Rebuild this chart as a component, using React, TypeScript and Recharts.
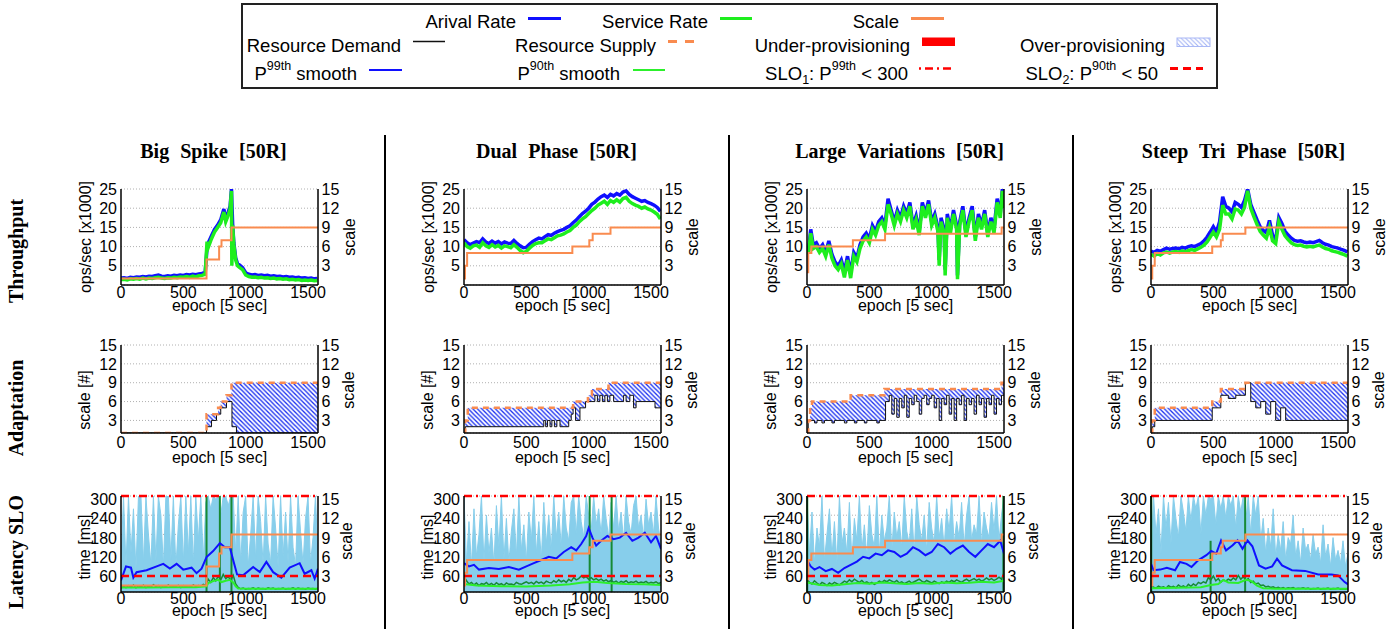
import React from 'react';
import { ComposedChart, Line, Area, XAxis, YAxis, CartesianGrid, ReferenceLine } from 'recharts';

const FONT = '"Liberation Sans", Arial, Helvetica, sans-serif';
const SERIF = '"Liberation Serif", "Times New Roman", serif';

const C = {
  blue: '#1010ff',
  green: '#1eee1e',
  orange: '#f98b4f',
  black: '#111111',
  sky: '#87ceeb',
  dkgreen: '#178a35',
  lime: '#2cf02c',
  red: '#ff0000',
  hatch: '#1a2ff0',
};

// ---------------- categories / ticks ----------------
const titles = ['Big Spike [50R]', 'Dual Phase [50R]', 'Large Variations [50R]', 'Steep Tri Phase [50R]'];
const rowLabels = ['Throughput', 'Adaptation', 'Latency SLO'];
const xTicks = [0, 500, 1000, 1500];
const thrTicks = [5, 10, 15, 20, 25];
const scaleTicks = [3, 6, 9, 12, 15];
const latTicks = [60, 120, 180, 240, 300];

const epochs25 = [0, 25, 50, 75, 100, 125, 150, 175, 200, 225, 250, 275, 300, 325, 350, 375, 400, 425, 450, 475, 500, 525, 550, 575, 600, 625, 650, 675, 700, 725, 750, 775, 800, 825, 850, 875, 900, 925, 950, 975, 1000, 1025, 1050, 1075, 1100, 1125, 1150, 1175, 1200, 1225, 1250, 1275, 1300, 1325, 1350, 1375, 1400, 1425, 1450, 1475, 1500, 1525, 1550, 1575];
const epochs20 = [0, 20, 40, 60, 80, 100, 120, 140, 160, 180, 200, 220, 240, 260, 280, 300, 320, 340, 360, 380, 400, 420, 440, 460, 480, 500, 520, 540, 560, 580, 600, 620, 640, 660, 680, 700, 720, 740, 760, 780, 800, 820, 840, 860, 880, 900, 920, 940, 960, 980, 1000, 1020, 1040, 1060, 1080, 1100, 1120, 1140, 1160, 1180, 1200, 1220, 1240, 1260, 1280, 1300, 1320, 1340, 1360, 1380, 1400, 1420, 1440, 1460, 1480, 1500, 1520, 1540, 1560, 1580];

// ---------------- Big Spike ----------------
const bsEpochs = [0, 25, 50, 75, 100, 125, 150, 175, 200, 225, 250, 275, 300, 325, 350, 375, 400, 425, 450, 475, 500, 525, 550, 575, 600, 625, 650, 675, 690, 700, 725, 750, 775, 800, 825, 840, 860, 875, 886, 889, 895, 905, 920, 935, 950, 975, 1000, 1025, 1050, 1075, 1100, 1125, 1150, 1175, 1200, 1225, 1250, 1275, 1300, 1325, 1350, 1375, 1400, 1425, 1450, 1475, 1500, 1525, 1550, 1575];
const bsArrival = [1.8, 1.9, 1.7, 2.0, 1.9, 2.1, 2.0, 2.2, 2.1, 2.3, 2.2, 2.4, 2.6, 2.3, 2.2, 2.4, 2.3, 2.5, 2.4, 2.6, 2.5, 2.7, 2.6, 2.8, 2.7, 2.9, 3.0, 3.3,
  9.5, 11.0, 12.8, 14.5, 15.6, 17.0, 19.8, 17.2, 19.0, 20.5, 25.0, 22.0, 16.0, 11.0, 7.0, 5.5, 5.2, 4.5,
  3.2, 2.8, 2.6, 2.7, 2.5, 2.6, 2.4, 2.5, 2.3, 2.4, 2.2, 2.3, 2.1, 2.2, 2.0, 2.1, 1.9, 2.0, 1.8, 1.9, 1.7, 1.8, 1.6, 1.7];
const bsService = [1.4, 1.5, 1.3, 1.6, 1.5, 1.7, 1.5, 1.8, 1.6, 1.8, 1.7, 1.9, 2.0, 1.8, 1.7, 1.9, 1.8, 2.0, 1.9, 2.1, 2.0, 2.2, 2.0, 2.3, 2.1, 2.4, 2.5, 2.8,
  11.3, 9.8, 12.0, 13.8, 15.0, 16.2, 19.0, 16.5, 18.2, 19.8, 24.5, 5.0, 15.5, 10.5, 6.5, 5.0, 4.6, 4.0,
  2.6, 2.2, 2.0, 2.1, 1.9, 2.0, 1.8, 1.9, 1.7, 1.8, 1.6, 1.7, 1.5, 1.6, 1.4, 1.5, 1.3, 1.4, 1.2, 1.3, 1.2, 1.3, 1.1, 1.2];
const bsScale = [[0, 1], [686, 4], [787, 6], [806, 7], [886, 9], [1580, 9]];
const bsSupply = [[0, 1], [686, 4], [779, 5], [800, 6], [846, 7], [886, 9], [1580, 9]];
const bsDemand = [[0, 1], [686, 2], [726, 3], [766, 4], [800, 5], [846, 6], [890, 2], [926, 1], [1580, 1]];
const bsP99Raw = [
  90, 300, 80, 300, 120, 260, 70, 300, 300, 90,
  300, 180, 85, 300, 95, 300, 240, 80, 300, 300,
  100, 300, 75, 210, 300, 90, 300, 120, 300, 85,
  300, 160, 300, 95, 280, 300, 260, 300, 290, 300,
  240, 300, 300, 270, 300, 300, 120, 300, 90, 250,
  300, 80, 180, 300, 100, 300, 220, 85, 300, 150,
  90, 300, 200, 80, 300, 110, 250, 90, 300, 140,
  80, 300, 190, 85, 230, 300, 90, 170, 300, 100];
const bsP90Raw = [
  12, 18, 14, 20, 15, 22, 13, 19, 16, 21,
  14, 18, 15, 23, 17, 20, 14, 19, 16, 22,
  15, 18, 17, 21, 14, 20, 16, 19, 15, 22,
  17, 20, 18, 24, 20, 40, 30, 45, 35, 50,
  38, 55, 42, 48, 36, 52, 25, 14, 10, 12,
  9, 11, 10, 13, 9, 12, 10, 11, 9, 13,
  10, 12, 9, 11, 10, 12, 9, 11, 10, 13,
  9, 12, 10, 11, 9, 12, 10, 11, 9, 12];
const bsP90Smooth = [[0, 14], [200, 14], [400, 15], [600, 15], [686, 18], [700, 28], [740, 34], [780, 38], [806, 31], [840, 35], [873, 38], [900, 30], [920, 18], [940, 11], [1100, 10], [1300, 10], [1580, 10]];
const bsP99Smooth = [[0, 36], [40, 80], [80, 76], [99, 45], [125, 62], [205, 68], [286, 80], [339, 88], [392, 73], [446, 88], [499, 70], [566, 76], [606, 59], [646, 73], [686, 109], [739, 128], [793, 153], [833, 140], [873, 140], [900, 99], [931, 55], [979, 52], [1060, 78], [1113, 62], [1166, 94], [1220, 62], [1286, 45], [1353, 76], [1433, 90], [1473, 57], [1527, 68], [1553, 42], [1580, 73]];
const bsSpikes = [[686, 300], [793, 300], [886, 300]];

// ---------------- Dual Phase ----------------
const dpArrival = [11.8, 11.0, 10.5, 10.9, 11.3, 11.0, 12.0, 11.2, 10.8, 11.4, 10.9, 11.3, 10.7, 11.2, 10.9, 10.8, 11.6, 10.8, 10.2, 9.7, 9.8, 10.6, 11.3, 11.8, 12.2, 12.0, 12.6, 13.1, 12.9, 13.5, 13.9, 14.2, 14.5, 15.0, 15.4, 16.2, 16.9, 17.8, 18.6, 19.2, 20.0, 21.0, 21.6, 22.4, 23.0, 23.4, 22.8, 23.6, 23.2, 23.8, 23.4, 24.2, 24.5, 23.6, 23.0, 22.6, 22.2, 21.8, 22.0, 21.5, 21.2, 20.8, 20.2, 19.2];
const dpService = [11.0, 10.0, 9.6, 10.2, 10.4, 9.8, 11.0, 10.2, 9.8, 10.5, 9.9, 10.3, 9.6, 10.2, 10.0, 9.7, 10.5, 9.8, 9.0, 8.4, 8.8, 9.6, 10.3, 10.8, 11.0, 11.0, 11.5, 12.0, 11.8, 12.3, 12.8, 13.0, 13.3, 13.8, 14.2, 15.0, 15.6, 16.5, 17.2, 17.8, 18.6, 19.4, 20.0, 20.8, 21.3, 21.8, 21.0, 22.0, 21.5, 22.2, 21.6, 22.5, 22.8, 21.8, 21.2, 20.8, 20.5, 20.0, 20.3, 19.8, 19.5, 19.0, 18.4, 17.2];
const dpScale = [[0, 1], [8, 3], [25, 5], [869, 6], [1005, 7], [1032, 8], [1175, 9], [1580, 9]];
const dpSupply = [[0, 1], [10, 3], [30, 5], [875, 6], [994, 7], [1026, 8], [1159, 9], [1580, 9]];
const dpDemand = [[0, 1], [10, 2], [640, 3], [655, 2], [670, 3], [690, 2], [705, 3], [725, 2], [745, 3], [770, 2], [840, 3], [860, 4], [875, 5], [895, 3], [930, 5], [975, 6], [1026, 6], [1050, 7], [1070, 6], [1090, 7], [1110, 6], [1130, 7], [1150, 6], [1170, 7], [1200, 6], [1280, 7], [1300, 6], [1330, 7], [1360, 5], [1380, 6], [1532, 5], [1580, 5]];
const dpP99Raw = [
  300, 90, 220, 80, 260, 110, 180, 300, 95, 240,
  120, 200, 85, 270, 140, 300, 100, 230, 90, 190,
  260, 110, 300, 130, 210, 95, 250, 160, 300, 120,
  220, 100, 280, 150, 240, 130, 300, 170, 250, 140,
  300, 200, 160, 280, 300, 180, 300, 220, 170, 300,
  240, 190, 300, 210, 260, 180, 300, 230, 170, 280,
  200, 300, 190, 250, 160, 300, 220, 180, 270, 300,
  200, 240, 170, 290, 210, 250, 180, 300, 200, 150];
const dpP90Raw = [
  50, 35, 25, 30, 22, 28, 20, 26, 24, 30,
  22, 27, 21, 29, 23, 26, 20, 28, 24, 25,
  22, 30, 26, 24, 28, 32, 27, 30, 25, 33,
  28, 31, 26, 34, 30, 28, 35, 30, 38, 32,
  36, 30, 40, 34, 45, 38, 42, 50, 44, 48,
  40, 45, 38, 42, 36, 40, 34, 38, 32, 36,
  30, 34, 28, 33, 30, 35, 28, 32, 30, 34,
  28, 31, 29, 33, 27, 30, 28, 32, 26, 30];
const dpP90Smooth = [[0, 25], [100, 20], [300, 18], [500, 17], [700, 20], [850, 24], [950, 30], [1050, 32], [1150, 28], [1300, 25], [1450, 24], [1580, 22]];
const dpP99Smooth = [[0, 90], [40, 80], [80, 85], [120, 70], [200, 75], [280, 72], [360, 78], [440, 70], [500, 80], [560, 90], [620, 100], [680, 110], [740, 105], [800, 125], [860, 140], [900, 130], [940, 150], [980, 175], [1000, 200], [1030, 170], [1060, 145], [1100, 160], [1150, 175], [1200, 165], [1250, 170], [1300, 185], [1350, 160], [1400, 170], [1450, 185], [1500, 155], [1540, 175], [1580, 135]];
const dpSpikes = [[1008, 300], [1184, 300]];

// ---------------- Large Variations ----------------
const lvEpochs = [0, 15, 30, 50, 75, 100, 125, 150, 175, 200, 225, 250, 275, 300, 325, 350, 375, 400, 425, 450, 475, 500, 525, 550, 575, 600, 625, 650, 675, 700, 725, 750, 775, 800, 825, 850, 875, 900, 925, 950, 975, 1000, 1025, 1050, 1060, 1075, 1100, 1108, 1125, 1150, 1175, 1200, 1207, 1225, 1250, 1275, 1300, 1325, 1350, 1375, 1400, 1425, 1450, 1475, 1500, 1525, 1550, 1567, 1580];
const lvArrival = [9, 10, 14.5, 10.5, 11, 9.5, 10.5, 8.5, 11.5, 8, 6, 5, 6.5, 3.5, 7.5, 3, 8.5, 7, 10.5, 12.5, 13.5, 12, 15.5, 14, 16.5, 17.5, 15.5, 22.5, 19.5, 16.5, 19.5, 17.5, 20.5, 18.5, 21.5, 15.5, 18, 14, 21.5, 18.5, 22, 16.5, 18.5, 15, 6.5, 17.5, 14.5, 4, 18.5, 14.5, 19.5, 15.5, 2.5, 16.5, 20.5, 13.5, 17.5, 20.5, 12.5, 18.5, 15.5, 19.5, 13.5, 17.5, 14.5, 22.5, 18.5, 25, 21];
const lvService = [8, 9, 13.5, 9.5, 10, 8.5, 9.5, 7.5, 10.5, 7, 5, 4, 5.5, 2, 6.5, 1.8, 7.5, 6, 9.5, 11.5, 12.5, 11, 14.5, 13, 15.5, 16.5, 14.5, 21, 18.5, 15.5, 18.5, 16.5, 19.5, 17.5, 20.5, 14.5, 17, 13, 20.5, 17.5, 21, 15.5, 17.5, 14, 5, 16.5, 13.5, 2.5, 17.5, 13.5, 18.5, 14.5, 1.5, 15.5, 19.5, 12.5, 16.5, 19.5, 11.5, 17.5, 14.5, 18.5, 12.5, 16.5, 13.5, 21.5, 17.5, 24.5, 20];
const lvScale = [[0, 2], [10, 5], [35, 6], [368, 7], [626, 8], [1561, 9], [1580, 9]];
const lvSupply = [[0, 1], [10, 3], [25, 5], [40, 6], [350, 7], [620, 8], [1560, 9], [1580, 9]];
const lvDemand = [[0, 1], [10, 3], [60, 2.6], [80, 3], [120, 2.6], [140, 3], [200, 2.6], [220, 3], [300, 2.6], [320, 3], [380, 2.6], [400, 3], [460, 2.6], [480, 3], [560, 2.6], [580, 3], [630, 6], [660, 7], [680, 4], [700, 6.5], [720, 3.5], [740, 6.5], [760, 5], [780, 7], [800, 3.5], [820, 6.5], [840, 5.5], [860, 7], [880, 6], [900, 4], [920, 6.5], [940, 7], [960, 5.5], [980, 6.5], [1000, 7], [1020, 5], [1040, 6.5], [1060, 3], [1080, 6.5], [1100, 5.5], [1120, 7], [1140, 4], [1160, 6.5], [1180, 3], [1200, 6.5], [1220, 5.5], [1240, 7], [1260, 3], [1280, 6.5], [1300, 5.5], [1320, 6.5], [1340, 4], [1360, 7], [1380, 5.5], [1400, 6.5], [1420, 3.5], [1440, 6.5], [1460, 5.5], [1480, 7], [1500, 4], [1520, 6.5], [1540, 5.5], [1560, 7], [1580, 7]];
const lvP99Raw = [
  300, 120, 250, 90, 200, 140, 300, 100, 180, 260,
  110, 220, 90, 300, 150, 200, 120, 280, 100, 230,
  160, 300, 130, 210, 110, 270, 180, 140, 300, 120,
  240, 160, 200, 300, 130, 250, 170, 220, 140, 300,
  190, 150, 260, 120, 300, 210, 160, 240, 130, 280,
  200, 150, 300, 170, 230, 140, 260, 190, 300, 150,
  220, 170, 280, 140, 240, 300, 160, 210, 180, 300,
  150, 250, 200, 170, 280, 190, 300, 160, 240, 300];
const lvP90Raw = [
  40, 30, 25, 35, 28, 22, 30, 26, 20, 28,
  24, 30, 26, 22, 28, 34, 30, 38, 32, 40,
  35, 30, 36, 28, 32, 26, 30, 24, 28, 34,
  30, 36, 32, 38, 34, 30, 36, 28, 32, 26,
  30, 34, 28, 32, 36, 40, 34, 30, 36, 32,
  28, 34, 30, 26, 32, 28, 34, 30, 36, 32,
  38, 34, 30, 36, 40, 34, 38, 42, 36, 40,
  34, 38, 44, 38, 42, 36, 40, 46, 40, 60];
const lvP90Smooth = [[0, 30], [100, 22], [200, 20], [300, 24], [400, 28], [500, 26], [600, 30], [700, 27], [800, 25], [900, 28], [1000, 26], [1100, 30], [1200, 27], [1300, 29], [1400, 32], [1500, 30], [1580, 35]];
const lvP99Smooth = [[0, 100], [30, 80], [60, 70], [100, 78], [150, 65], [200, 72], [250, 60], [300, 75], [350, 85], [400, 95], [450, 110], [500, 105], [550, 120], [600, 115], [650, 130], [700, 125], [750, 110], [800, 120], [850, 140], [900, 130], [950, 115], [1000, 125], [1050, 150], [1100, 140], [1150, 120], [1200, 135], [1250, 145], [1300, 125], [1350, 110], [1400, 130], [1450, 150], [1500, 140], [1550, 160], [1580, 120]];
const lvSpikes = [[2, 300], [1575, 300]];

// ---------------- Steep Tri Phase ----------------
const stArrival = [8.8, 8.5, 9.0, 8.8, 9.2, 9.6, 9.3, 9.5, 9.6, 9.4, 9.8, 9.6, 10.0, 10.2, 10.0, 10.4, 10.8, 11.5, 12.5, 13.8, 15.2, 13.8, 16.5, 23.0, 20.5, 20.0, 19.0, 21.5, 21.0, 20.2, 22.0, 25.0, 21.0, 19.0, 17.0, 15.2, 14.2, 13.6, 16.8, 13.0, 12.0, 17.6, 16.0, 14.0, 13.0, 12.2, 11.6, 11.4, 11.5, 11.2, 11.0, 11.2, 11.0, 11.3, 11.6, 11.0, 10.6, 10.4, 10.0, 9.8, 9.6, 9.3, 9.0, 8.6];
const stService = [8.0, 7.5, 8.2, 7.8, 8.4, 8.6, 8.3, 8.6, 8.7, 8.5, 8.9, 8.6, 9.0, 9.2, 9.0, 9.4, 9.8, 10.4, 11.2, 12.5, 13.8, 12.5, 14.5, 20.8, 18.5, 18.5, 17.2, 19.8, 19.5, 18.5, 20.2, 24.5, 20.0, 17.8, 15.8, 14.0, 13.0, 12.2, 15.0, 11.5, 10.8, 16.5, 14.5, 12.8, 11.8, 11.0, 10.5, 10.3, 10.4, 10.1, 9.9, 10.1, 9.9, 10.2, 10.4, 9.9, 9.5, 9.3, 8.9, 8.7, 8.5, 8.2, 7.9, 7.5];
const stScale = [[0, 1], [10, 3], [30, 5], [491, 6], [560, 7], [575, 8], [757, 9], [1580, 9]];
const stSupply = [[0, 1], [10, 3], [30, 5], [491, 6], [560, 8], [757, 9], [1580, 9]];
const stDemand = [[0, 1], [10, 2], [30, 3], [491, 5], [560, 7], [620, 6.5], [680, 7], [757, 9], [800, 6], [840, 5], [880, 6], [920, 4], [960, 6], [1000, 3], [1040, 5], [1080, 3], [1580, 3]];
const stP99Raw = [
  100, 300, 180, 260, 120, 300, 200, 280, 150, 300,
  230, 170, 300, 250, 190, 300, 220, 300, 260, 300,
  180, 300, 240, 300, 290, 300, 210, 300, 260, 300,
  230, 300, 270, 300, 200, 300, 250, 300, 220, 300,
  180, 300, 240, 300, 160, 230, 120, 200, 140, 260,
  110, 180, 130, 220, 100, 170, 150, 240, 110, 160,
  90, 200, 130, 150, 100, 180, 120, 140, 90, 210,
  110, 150, 80, 170, 100, 130, 90, 160, 80, 120];
const stP90Raw = [
  20, 15, 12, 18, 14, 16, 12, 20, 15, 18,
  13, 22, 16, 19, 14, 24, 18, 25, 20, 30,
  26, 32, 28, 45, 38, 50, 35, 42, 30, 38,
  34, 40, 36, 44, 38, 52, 40, 48, 36, 42,
  30, 34, 25, 28, 20, 22, 16, 18, 14, 16,
  12, 15, 11, 14, 10, 13, 12, 14, 10, 12,
  11, 13, 10, 12, 9, 11, 10, 12, 9, 11,
  10, 12, 9, 11, 10, 12, 9, 10, 9, 11];
const stP90Smooth = [[0, 12], [200, 13], [400, 15], [480, 22], [540, 25], [580, 38], [620, 30], [700, 28], [760, 38], [800, 35], [850, 20], [900, 12], [1000, 10], [1580, 10]];
const stP99Smooth = [[0, 88], [21, 68], [74, 70], [127, 76], [193, 68], [232, 94], [285, 88], [325, 78], [378, 99], [444, 115], [483, 128], [523, 120], [562, 161], [602, 130], [655, 146], [694, 161], [734, 135], [774, 161], [813, 143], [866, 83], [919, 73], [972, 80], [1011, 104], [1051, 83], [1130, 68], [1236, 66], [1341, 55], [1447, 55], [1500, 52], [1553, 31], [1580, 24]];
const stSpikes = [[2, 300], [478, 160], [755, 300]];

const sloLines = [300, 50];

// ---------------- helpers ----------------
const xy = (xs: number[], ys: number[]) => xs.map((x, i) => ({ x, y: ys[i] }));
const pr = (ps: number[][]) => ps.map(([x, y]) => ({ x, y }));
const stepAt = (ps: number[][], x: number) => {
  let v = ps[0][1];
  for (const [px, py] of ps) if (px <= x) v = py;
  return v;
};
function provisioning(supply: number[][], demand: number[][]) {
  const xs = Array.from(new Set([...supply.map((p) => p[0]), ...demand.map((p) => p[0])])).sort((a, b) => a - b);
  return xs.map((x) => {
    const s = stepAt(supply, x);
    const d = stepAt(demand, x);
    return { x, over: [Math.min(d, s), s], under: [s, Math.max(d, s)] };
  });
}

const COLS = [121, 464, 807, 1151];
const PW = 197;
const XMAX = 1580;
const ROWCFG: Record<string, any> = {
  thr: { top: 189, h: 96, lDomain: [0, 25], lTicks: thrTicks, rDomain: [0, 15], xMargin: 1.5, yDy: 0 },
  ad: { top: 345, h: 88, lDomain: [1, 15], lTicks: scaleTicks, rDomain: [1, 15], xMargin: 4, yDy: 0 },
  lat: { top: 496, h: 96, lDomain: [0, 300], lTicks: latTicks, rDomain: [0, 15], xMargin: 0.5, yDy: 3.5 },
};

const tickStyle = { fontSize: 16, fontFamily: FONT, fill: '#000' };
const axisStyle = { stroke: '#000', strokeWidth: 1.5 };

function Panel({ col, row, children }: { col: number; row: string; children: React.ReactNode }) {
  const cfg = ROWCFG[row];
  const L = COLS[col];
  const mL = 60, mR = 50, mT = 14, xH = 34;
  return (
    <div style={{ position: 'absolute', left: L - mL, top: cfg.top - mT }}>
      <ComposedChart width={mL + PW + mR} height={mT + cfg.h + xH} margin={{ top: mT, right: 0, bottom: 0, left: 0 }}>
        <defs>
          <pattern id={`hatch${col}`} patternUnits="userSpaceOnUse" width={4.5} height={4.5}>
            <rect width={4.5} height={4.5} fill="#ffffff" />
            <path d="M0,0 L4.5,4.5 M-1,3.5 L1,5.5 M3.5,-1 L5.5,1" stroke={C.hatch} strokeWidth={1.3} />
          </pattern>
        </defs>
        <CartesianGrid yAxisId="l" vertical={false} stroke="#b0b0b0" strokeDasharray="1 2" />
        <XAxis dataKey="x" type="number" domain={[0, XMAX]} ticks={xTicks} allowDataOverflow interval={0}
          height={xH} tickLine={false} tickSize={0} tickMargin={cfg.xMargin} axisLine={axisStyle} tick={tickStyle} />
        <YAxis yAxisId="l" type="number" domain={cfg.lDomain} ticks={cfg.lTicks} allowDataOverflow interval={0}
          width={mL} tickLine={false} tickSize={0} tickMargin={4} axisLine={axisStyle} tick={{ ...tickStyle, dy: cfg.yDy }} />
        <YAxis yAxisId="r" orientation="right" type="number" domain={cfg.rDomain} ticks={scaleTicks} allowDataOverflow interval={0}
          width={mR} tickLine={false} tickSize={0} tickMargin={3.5} axisLine={axisStyle} tick={{ ...tickStyle, dy: cfg.yDy }} />
        {children}
      </ComposedChart>
    </div>
  );
}

const common = { dot: false, activeDot: false, isAnimationActive: false, dataKey: 'y' } as any;

function thrSeries(epochs: number[], arrival: number[], service: number[], scale: number[][]) {
  return [
    <Line key="a" yAxisId="l" data={xy(epochs, arrival)} type="linear" stroke={C.blue} strokeWidth={3.5} {...common} />,
    <Line key="s" yAxisId="l" data={xy(epochs, service)} type="linear" stroke={C.green} strokeWidth={3.5} {...common} />,
    <Line key="c" yAxisId="r" data={pr(scale)} type="stepAfter" stroke={C.orange} strokeWidth={2} {...common} />,
  ];
}

function adSeries(col: number, supply: number[][], demand: number[][]) {
  const table = provisioning(supply, demand);
  return [
    <Area key="o" yAxisId="l" data={table} dataKey="over" type="stepAfter" stroke="none" fill={`url(#hatch${col})`} fillOpacity={1} isAnimationActive={false} dot={false} activeDot={false} />,
    <Area key="u" yAxisId="l" data={table} dataKey="under" type="stepAfter" stroke="none" fill={C.red} fillOpacity={1} isAnimationActive={false} dot={false} activeDot={false} />,
    <Line key="d" yAxisId="l" data={pr(demand)} type="stepAfter" stroke={C.black} strokeWidth={1} {...common} />,
    <Line key="s" yAxisId="l" data={pr(supply)} type="stepAfter" stroke={C.orange} strokeWidth={2.5} strokeDasharray="6 5" {...common} />,
  ];
}

function latSeries(p99Raw: number[], p90Raw: number[], spikes: number[][], p90s: number[][], p99s: number[][], scale: number[][]) {
  return [
    <Area key="sky" yAxisId="l" data={xy(epochs20, p99Raw)} dataKey="y" type="linear" stroke={C.sky} strokeWidth={1} fill={C.sky} fillOpacity={1} baseValue={0} isAnimationActive={false} dot={false} activeDot={false} />,
    <Line key="dk" yAxisId="l" data={xy(epochs20, p90Raw)} type="linear" stroke={C.dkgreen} strokeWidth={1.5} {...common} />,
    ...spikes.map(([x, v], i) => (
      <ReferenceLine key={`sp${i}`} yAxisId="l" segment={[{ x, y: 0 }, { x, y: v }]} stroke={C.dkgreen} strokeWidth={2} />
    )),
    <Line key="p90" yAxisId="l" data={pr(p90s)} type="linear" stroke={C.lime} strokeWidth={2} {...common} />,
    <Line key="p99" yAxisId="l" data={pr(p99s)} type="linear" stroke={C.blue} strokeWidth={2} {...common} />,
    <Line key="sc" yAxisId="r" data={pr(scale)} type="stepAfter" stroke={C.orange} strokeWidth={2} {...common} />,
    <ReferenceLine key="slo1" yAxisId="l" y={sloLines[0]} stroke={C.red} strokeWidth={2.5} strokeDasharray="8 4 2 4" />,
    <ReferenceLine key="slo2" yAxisId="l" y={sloLines[1]} stroke={C.red} strokeWidth={2.5} strokeDasharray="8 5" />,
  ];
}

function Overlay() {
  const fs = 18.5;
  const t = { fontFamily: FONT, fontSize: fs, fill: '#000' } as any;
  const ax = { fontFamily: FONT, fontSize: 16, fill: '#000' } as any;
  return (
    <svg width={1399} height={629} style={{ position: 'absolute', left: 0, top: 0 }}>
      <defs>
        <pattern id="legHatch" patternUnits="userSpaceOnUse" width={4.5} height={4.5}>
          <rect width={4.5} height={4.5} fill="#ffffff" />
          <path d="M0,0 L4.5,4.5 M-1,3.5 L1,5.5 M3.5,-1 L5.5,1" stroke="#9fb0f5" strokeWidth={1} />
        </pattern>
      </defs>
      {/* legend box */}
      <rect x={242} y={4} width={975} height={84} fill="none" stroke="#222" strokeWidth={2} />
      <text {...t} x={516} y={28} textAnchor="end">Arival Rate</text>
      <line x1={528} x2={561} y1={18.5} y2={18.5} stroke={C.blue} strokeWidth={3} />
      <text {...t} x={708} y={28} textAnchor="end">Service Rate</text>
      <line x1={720} x2={752} y1={18.5} y2={18.5} stroke={C.green} strokeWidth={3} />
      <text {...t} x={899} y={28} textAnchor="end">Scale</text>
      <line x1={911} x2={944} y1={18.5} y2={18.5} stroke={C.orange} strokeWidth={3} />

      <text {...t} x={401} y={52} textAnchor="end">Resource Demand</text>
      <line x1={413} x2={445} y1={41.5} y2={41.5} stroke={C.black} strokeWidth={1.5} />
      <text {...t} x={656} y={52} textAnchor="end">Resource Supply</text>
      <line x1={668} x2={694} y1={41.5} y2={41.5} stroke={C.orange} strokeWidth={3} strokeDasharray="9 8" />
      <text {...t} x={910} y={52} textAnchor="end">Under-provisioning</text>
      <rect x={922} y={37.5} width={33} height={8.5} fill={C.red} />
      <text {...t} x={1165} y={52} textAnchor="end">Over-provisioning</text>
      <rect x={1177} y={38} width={33} height={8.5} fill="url(#legHatch)" stroke="#a9b8f5" strokeWidth={1} />

      <text {...t} x={357} y={79.5} textAnchor="end">P<tspan fontSize={12.5} dy={-10}>99th</tspan><tspan dy={10}> smooth</tspan></text>
      <line x1={369} x2={402} y1={70} y2={70} stroke={C.blue} strokeWidth={2} />
      <text {...t} x={620} y={79.5} textAnchor="end">P<tspan fontSize={12.5} dy={-10}>90th</tspan><tspan dy={10}> smooth</tspan></text>
      <line x1={633} x2={665} y1={70} y2={70} stroke={C.lime} strokeWidth={2} />
      <text {...t} x={908} y={79.5} textAnchor="end">SLO<tspan fontSize={12.5} dy={4}>1</tspan><tspan dy={-4}>: P</tspan><tspan fontSize={12.5} dy={-10}>99th</tspan><tspan dy={10}> &lt; 300</tspan></text>
      <line x1={919} x2={953} y1={68.5} y2={68.5} stroke={C.red} strokeWidth={2.5} strokeDasharray="2 4 8 4" />
      <text {...t} x={1158} y={79.5} textAnchor="end">SLO<tspan fontSize={12.5} dy={4}>2</tspan><tspan dy={-4}>: P</tspan><tspan fontSize={12.5} dy={-10}>90th</tspan><tspan dy={10}> &lt; 50</tspan></text>
      <line x1={1170} x2={1203} y1={68.5} y2={68.5} stroke={C.red} strokeWidth={3} strokeDasharray="8 5" />

      {/* separators */}
      {[385, 729, 1073].map((x) => (
        <line key={x} x1={x} x2={x} y1={135} y2={629} stroke="#000" strokeWidth={2} />
      ))}

      {/* row labels */}
      {[[251, rowLabels[0]], [408, rowLabels[1]], [552, rowLabels[2]]].map(([y, s]) => (
        <text key={s as string} x={16} y={y as number} transform={`rotate(-90 16 ${y})`} textAnchor="middle" dominantBaseline="central"
          fontFamily={SERIF} fontWeight="bold" fontSize={20}>{s}</text>
      ))}

      {COLS.map((L, i) => {
        const R = L + PW;
        const cx = L + PW / 2;
        const vt = (x: number, y: number, s: string) => (
          <text {...ax} x={x} y={y} transform={`rotate(-90 ${x} ${y})`} textAnchor="middle" dominantBaseline="central">{s}</text>
        );
        return (
          <g key={i}>
            <text x={cx - 6} y={158} textAnchor="middle" fontFamily={SERIF} fontWeight="bold" fontSize={20} style={{ wordSpacing: '6px' }}>{titles[i]}</text>
            {vt(L - 36, 237, 'ops/sec [x1000]')}
            {vt(R + 31, 237, 'scale')}
            <text {...ax} x={cx} y={311} textAnchor="middle">epoch [5 sec]</text>
            {vt(L - 37, 400, 'scale [#]')}
            {vt(R + 30, 390, 'scale')}
            <text {...ax} x={cx} y={463} textAnchor="middle">epoch [5 sec]</text>
            {vt(L - 37, 547, 'time [ms]')}
            {vt(R + 28, 541, 'scale')}
            <text {...ax} x={cx} y={616} textAnchor="middle">epoch [5 sec]</text>
          </g>
        );
      })}
    </svg>
  );
}

export default function App() {
  return (
    <div style={{ position: 'relative', width: 1399, height: 629, background: '#fff', overflow: 'hidden' }}>
      <style>{'body{margin:0;}'}</style>
      <Panel col={0} row="thr">{thrSeries(bsEpochs, bsArrival, bsService, bsScale)}</Panel>
      <Panel col={1} row="thr">{thrSeries(epochs25, dpArrival, dpService, dpScale)}</Panel>
      <Panel col={2} row="thr">{thrSeries(lvEpochs, lvArrival, lvService, lvScale)}</Panel>
      <Panel col={3} row="thr">{thrSeries(epochs25, stArrival, stService, stScale)}</Panel>

      <Panel col={0} row="ad">{adSeries(0, bsSupply, bsDemand)}</Panel>
      <Panel col={1} row="ad">{adSeries(1, dpSupply, dpDemand)}</Panel>
      <Panel col={2} row="ad">{adSeries(2, lvSupply, lvDemand)}</Panel>
      <Panel col={3} row="ad">{adSeries(3, stSupply, stDemand)}</Panel>

      <Panel col={0} row="lat">{latSeries(bsP99Raw, bsP90Raw, bsSpikes, bsP90Smooth, bsP99Smooth, bsScale)}</Panel>
      <Panel col={1} row="lat">{latSeries(dpP99Raw, dpP90Raw, dpSpikes, dpP90Smooth, dpP99Smooth, dpScale)}</Panel>
      <Panel col={2} row="lat">{latSeries(lvP99Raw, lvP90Raw, lvSpikes, lvP90Smooth, lvP99Smooth, lvScale)}</Panel>
      <Panel col={3} row="lat">{latSeries(stP99Raw, stP90Raw, stSpikes, stP90Smooth, stP99Smooth, stScale)}</Panel>

      <Overlay />
    </div>
  );
}
